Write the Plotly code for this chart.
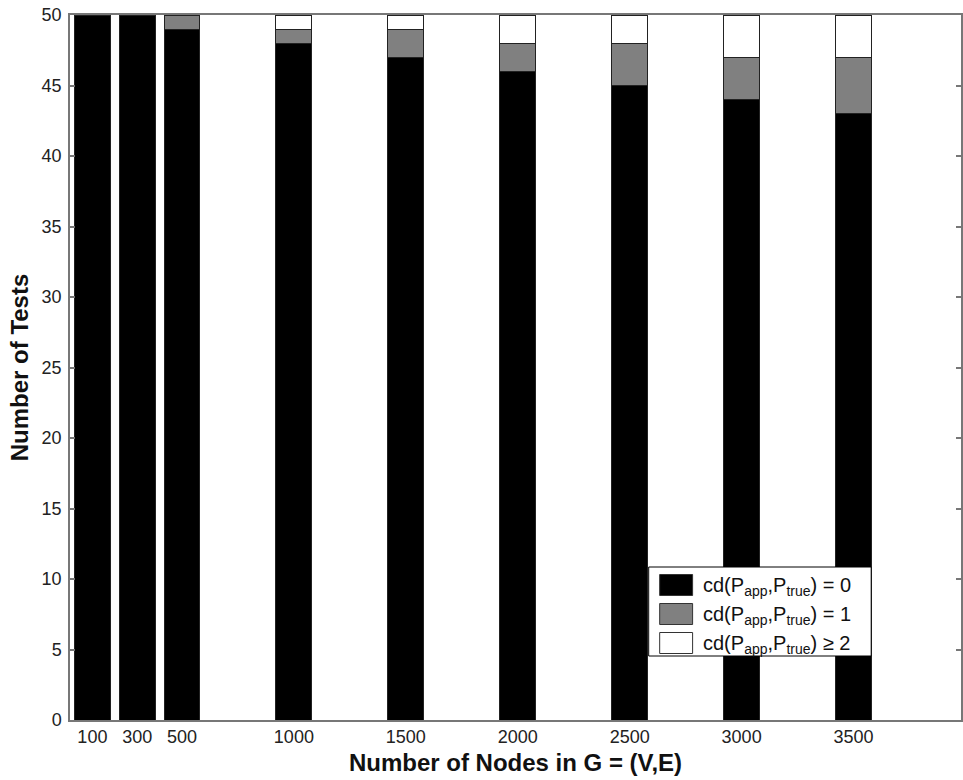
import plotly.graph_objects as go

nodes = [100, 300, 500, 1000, 1500, 2000, 2500, 3000, 3500]
cd0 = [50, 50, 49, 48, 47, 46, 45, 44, 43]
cd1 = [0, 0, 1, 1, 2, 2, 3, 3, 4]
cd2 = [0, 0, 0, 1, 1, 2, 2, 3, 3]
xtick_labels = [str(n) for n in nodes]
ytick_vals = list(range(0, 55, 5))

names = ["cd(P<sub>app</sub>,P<sub>true</sub>) = 0",
         "cd(P<sub>app</sub>,P<sub>true</sub>) = 1",
         "cd(P<sub>app</sub>,P<sub>true</sub>) \u2265 2"]
colors = ["#000000", "#808080", "#ffffff"]

fig = go.Figure()
for vals, name, col in zip([cd0, cd1, cd2], names, colors):
    fig.add_trace(go.Bar(
        x=nodes, y=vals, name=name, width=160, showlegend=False,
        marker=dict(color=col, line=dict(color="#222222", width=1)),
    ))

# manual legend (box, swatches, labels) in paper coordinates
L, T, H = 70, 15, 705  # plot area left px, top px, height px
W = 893
def px(x):
    return (x - L) / W
def py(y):
    return (T + H - y) / H

shapes = [dict(type="rect", xref="paper", yref="paper",
               x0=px(650), x1=px(873), y0=py(656), y1=py(567),
               fillcolor="white", line=dict(color="#000000", width=1), layer="above")]
annotations = []
row_centers = [585, 614, 643]
for name, col, yc in zip(names, colors, row_centers):
    shapes.append(dict(type="rect", xref="paper", yref="paper",
                       x0=px(661), x1=px(694), y0=py(yc + 10.5), y1=py(yc - 10.5),
                       fillcolor=col, line=dict(color="#333333", width=1), layer="above"))
    annotations.append(dict(xref="paper", yref="paper", x=px(702), y=py(yc + 1),
                            text=name, showarrow=False, xanchor="left", yanchor="middle",
                            font=dict(size=20, color="#111111")))

fig.update_layout(
    barmode="stack",
    width=963, height=780,
    margin=dict(l=L, r=0, t=T, b=780 - T - H),
    paper_bgcolor="white", plot_bgcolor="white",
    font=dict(family="Liberation Sans, Arial, sans-serif", size=18, color="#222222"),
    showlegend=False,
    shapes=shapes,
    annotations=annotations,
)
fig.update_xaxes(
    range=[0, 3980], tickvals=nodes, ticktext=xtick_labels,
    ticks="", showgrid=False, zeroline=False,
    showline=True, linecolor="#777777", linewidth=1.5, mirror=True,
    title=dict(text="<b>Number of Nodes in G = (V,E)</b>", font=dict(size=24, color="#111111"), standoff=8),
    tickfont=dict(size=18, color="#222222"),
)
fig.update_yaxes(
    range=[0, 50], tickvals=ytick_vals,
    ticks="inside", ticklen=5, tickcolor="#777777", tickwidth=1.5,
    showgrid=False, zeroline=False,
    showline=True, linecolor="#777777", linewidth=1.5, mirror="ticks",
    title=dict(text="<b>Number of Tests</b>", font=dict(size=24, color="#111111"), standoff=6),
    tickfont=dict(size=18, color="#222222"),
    ticklabelstandoff=3,
)

fig.write_html("out.html")
